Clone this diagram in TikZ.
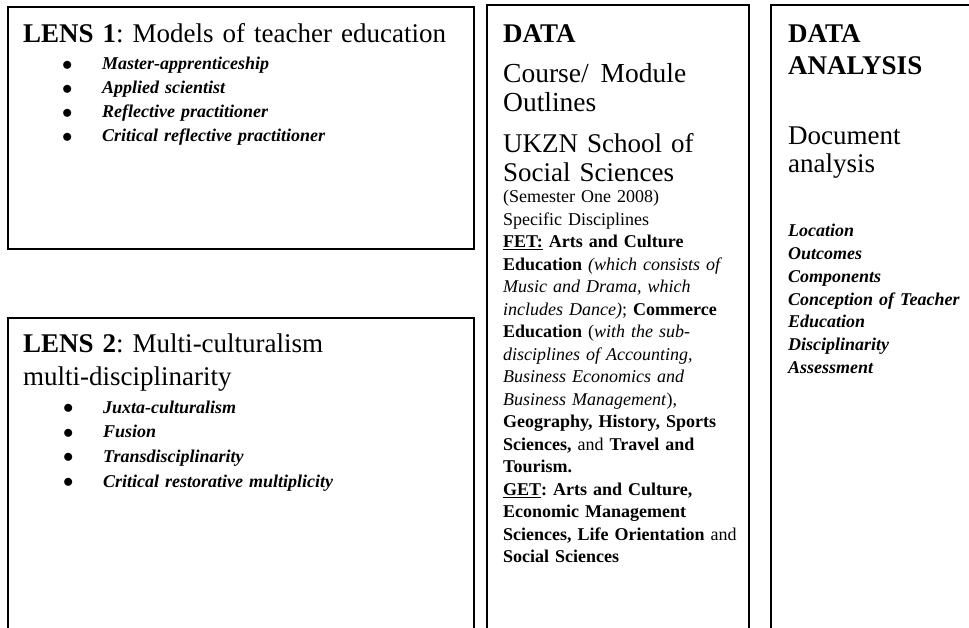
\documentclass[tikz,border=0pt]{standalone}
\usepackage{fontspec}
\setmainfont{Liberation Serif}
\frenchspacing
\usetikzlibrary{positioning}
\tikzset{box/.style={draw,line width=2.4pt,inner sep=0pt,anchor=north west}}
\tikzset{txt/.style={anchor=base west,inner sep=0pt,text width=300pt,align=left}}
\tikzset{fsize/.style 2 args={font=\fontsize{#1}{#2}\selectfont}}
\newcommand{\listdot}{\makebox[40pt][l]{\smash{\raisebox{-0.5pt}{\fontsize{21}{0}\selectfont$\bullet$}}}}
\newcommand{\itb}[1]{\textbf{\textit{#1}}}

\begin{document}
\begin{tikzpicture}[x=1pt,y=-1pt]
  \useasboundingbox (0,0) rectangle (969,628);
  \clip (0,0) rectangle (969,628);

  % frames
  \node[box,minimum width=466pt,minimum height=242pt] (lens1) at (7,6) {};
  \node[box,minimum width=466pt,minimum height=320pt] (lens2) at (7,317) {};
  \node[box,minimum width=262pt,minimum height=630pt] (data) at (486,4) {};
  \node[box,minimum width=220pt,minimum height=630pt] (anal) at (770,4) {};

  % lens 1
  \node[txt,fsize={27}{31},text width=440pt] (lens1head) at (23,43) {\textbf{LENS 1}: Models of teacher education};
  \node[txt,fsize={18}{24}] (lens1list) at (62,70) {\listdot\itb{Master-apprenticeship}\\
    \listdot\itb{Applied scientist}\\
    \listdot\itb{Reflective practitioner}\\
    \listdot\itb{Critical reflective practitioner}};

  % lens 2
  \node[txt,fsize={27}{33},text width=440pt] (lens2head) at (23,352) {\textbf{LENS 2}: Multi-culturalism\\multi-disciplinarity};
  \node[txt,fsize={18}{24.7}] (lens2list) at (63,413) {\listdot\itb{Juxta-culturalism}\\
    \listdot\itb{Fusion}\\
    \listdot\itb{Transdisciplinarity}\\
    \listdot\itb{Critical restorative multiplicity}};

  % data
  \node[txt,fsize={27}{31}] (datahead) at (503,43) {\textbf{DATA}};
  \node[txt,fsize={27.5}{29}] (datacourse) at (503,83) {Course/\hspace{12pt}Module\\Outlines};
  \node[txt,fsize={27}{29}] (dataschool) at (503,153) {UKZN School of\\Social Sciences};
  \node[txt,fsize={18}{22.5},text width=240pt] (datalist) at (503,203) {(Semester One 2008)\\
    Specific Disciplines\\
    \textbf{\underline{FET:} Arts and Culture}\\
    \textbf{Education} \textit{(which consists of}\\
    \textit{Music and Drama, which}\\
    \textit{includes Dance)}; \textbf{Commerce}\\
    \textbf{Education} (\textit{with the sub-}\\
    \textit{disciplines of Accounting,}\\
    \textit{Business Economics and}\\
    \textit{Business Management}),\\
    \textbf{Geography, History, Sports}\\
    \textbf{Sciences,} and \textbf{Travel and}\\
    \textbf{Tourism.}\\
    \textbf{\underline{GET}: Arts and Culture,}\\
    \textbf{Economic Management}\\
    \textbf{Sciences, Life Orientation} and\\
    \textbf{Social Sciences}};

  % data analysis
  \node[txt,fsize={27}{32}] (analhead) at (788,43) {\textbf{DATA}\\\textbf{ANALYSIS}};
  \node[txt,fsize={27}{28}] (analdoc) at (788,145) {Document\\analysis};
  \node[txt,fsize={18}{22.7}] (anallist) at (788,237) {\itb{Location}\\
    \itb{Outcomes}\\
    \itb{Components}\\
    \itb{Conception of Teacher}\\
    \itb{Education}\\
    \itb{Disciplinarity}\\
    \itb{Assessment}};
\end{tikzpicture}
\end{document}
